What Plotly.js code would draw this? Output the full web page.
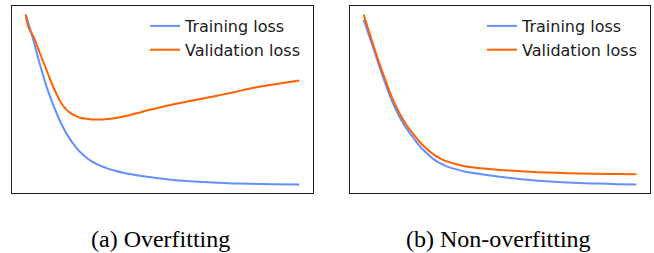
<!DOCTYPE html>
<html>
<head>
<meta charset="utf-8">
<script src="https://cdn.plot.ly/plotly-3.0.1.min.js"></script>
<style>
  html, body { margin: 0; padding: 0; background: #ffffff; }
  #chart { width: 654px; height: 253px; }
</style>
</head>
<body>
<div id="chart"></div>
<script>
// ---- Data (loss in arbitrary units) ----
const seriesNames = ["Training loss", "Validation loss"];
const captions = ["(a) Overfitting", "(b) Non-overfitting"];

// (a) Overfitting
const overTrainEpochs = [0,1,2,3,4,5,6,7,8,9,10,11,12,13,14,15,16,17,18,19,20,22,24,26,28,30,33,36,40,45,50,55,60,65,70,76,82,90,100];
const overTrainLoss   = [0.957,0.91,0.86,0.81,0.755,0.70,0.65,0.60,0.555,0.515,0.475,0.44,0.405,0.373,0.345,0.318,0.295,0.273,0.254,0.236,0.22,0.194,0.173,0.157,0.144,0.133,0.12,0.11,0.099,0.088,0.079,0.071,0.065,0.061,0.057,0.054,0.052,0.050,0.048];
const overValEpochs   = [0,1,2,3,4,5,6,7,8,9,10,11,12,13,14,15,16,17,18,19,20,22,24,26,28,31,34,37,41,45,50,55,60,65,70,76,82,88,94,100];
const overValLoss     = [0.957,0.889,0.862,0.835,0.797,0.757,0.72,0.683,0.646,0.607,0.572,0.54,0.51,0.484,0.463,0.447,0.434,0.424,0.416,0.41,0.405,0.399,0.396,0.395,0.396,0.399,0.406,0.416,0.43,0.446,0.464,0.48,0.494,0.508,0.523,0.541,0.561,0.577,0.591,0.604];

// (b) Non-overfitting
const goodEpochs    = [0,1,2,3,4,5,6,7,8,9,10,11,12,13,14,15,16,17,18,19,20,21,22,24,26,28,31,34,37,41,45,50,55,61,67,73,79,86,93,100];
const goodTrainLoss = [0.929,0.886,0.843,0.801,0.757,0.713,0.668,0.625,0.585,0.545,0.508,0.474,0.443,0.414,0.387,0.363,0.341,0.320,0.302,0.282,0.263,0.245,0.23,0.203,0.179,0.162,0.141,0.128,0.117,0.107,0.098,0.088,0.080,0.071,0.064,0.059,0.055,0.052,0.049,0.047];
const goodValLoss   = [0.957,0.91,0.864,0.818,0.772,0.728,0.686,0.645,0.605,0.565,0.527,0.493,0.462,0.432,0.405,0.381,0.359,0.339,0.321,0.303,0.285,0.268,0.253,0.227,0.204,0.187,0.168,0.155,0.145,0.137,0.131,0.125,0.12,0.115,0.111,0.108,0.106,0.104,0.103,0.102];

// ---- Styles ----
const trainColor = "#648FFF";
const valColor = "#FE6100";
const W = 654, H = 253;

function padRange(arrs, frac) {
  let lo = Infinity, hi = -Infinity;
  arrs.forEach(a => a.forEach(v => { lo = Math.min(lo, v); hi = Math.max(hi, v); }));
  const p = (hi - lo) * frac;
  return [lo - p, hi + p];
}

function lineTrace(x, y, name, color, xa, ya, legendId) {
  return {
    x: x, y: y, name: name, type: "scatter", mode: "lines",
    line: { color: color, width: 2, shape: "spline", smoothing: 1 },
    xaxis: xa, yaxis: ya, legend: legendId, hoverinfo: "skip"
  };
}

const traces = [
  lineTrace(overTrainEpochs, overTrainLoss, seriesNames[0], trainColor, "x", "y", "legend"),
  lineTrace(overValEpochs, overValLoss, seriesNames[1], valColor, "x", "y", "legend"),
  lineTrace(goodEpochs, goodTrainLoss, seriesNames[0], trainColor, "x2", "y2", "legend2"),
  lineTrace(goodEpochs, goodValLoss, seriesNames[1], valColor, "x2", "y2", "legend2")
];

const axisBase = {
  showline: true, mirror: true, linecolor: "#1e1e1e", linewidth: 1.3,
  showgrid: false, zeroline: false, ticks: "", showticklabels: false, fixedrange: true
};

const yDom = [(H - 193) / H, (H - 6) / H];

const legendFont = { family: "DejaVu Sans, sans-serif", size: 16, color: "#1a1a1a" };
const legendBase = {
  font: legendFont, bgcolor: "rgba(0,0,0,0)", borderwidth: 0,
  xanchor: "left", yanchor: "top", tracegroupgap: 0, itemwidth: 30
};

const captionFont = { family: "Liberation Serif, Times New Roman, serif", size: 24, color: "#000000" };

const layout = {
  width: W, height: H,
  margin: { l: 0, r: 0, t: 0, b: 0, pad: 0 },
  paper_bgcolor: "#ffffff", plot_bgcolor: "#ffffff",
  showlegend: true,
  xaxis: Object.assign({}, axisBase, { domain: [12 / W, 313 / W], range: padRange([overTrainEpochs, overValEpochs], 0.05), anchor: "y" }),
  yaxis: Object.assign({}, axisBase, { domain: yDom, range: padRange([overTrainLoss, overValLoss], 0.05), anchor: "x" }),
  xaxis2: Object.assign({}, axisBase, { domain: [350 / W, 650 / W], range: padRange([goodEpochs], 0.05), anchor: "y2" }),
  yaxis2: Object.assign({}, axisBase, { domain: yDom, range: padRange([goodTrainLoss, goodValLoss], 0.05), anchor: "x2" }),
  legend: Object.assign({}, legendBase, { x: 145 / W, y: (H - 9) / H }),
  legend2: Object.assign({}, legendBase, { x: 482 / W, y: (H - 9) / H }),
  annotations: [
    { text: captions[0], xref: "paper", yref: "paper", x: 160 / W, y: (H - 239) / H,
      xanchor: "center", yanchor: "middle", showarrow: false, font: captionFont },
    { text: captions[1], xref: "paper", yref: "paper", x: 498 / W, y: (H - 239) / H,
      xanchor: "center", yanchor: "middle", showarrow: false, font: captionFont }
  ]
};

Plotly.newPlot("chart", traces, layout, { displayModeBar: false, staticPlot: true });
</script>
</body>
</html>
